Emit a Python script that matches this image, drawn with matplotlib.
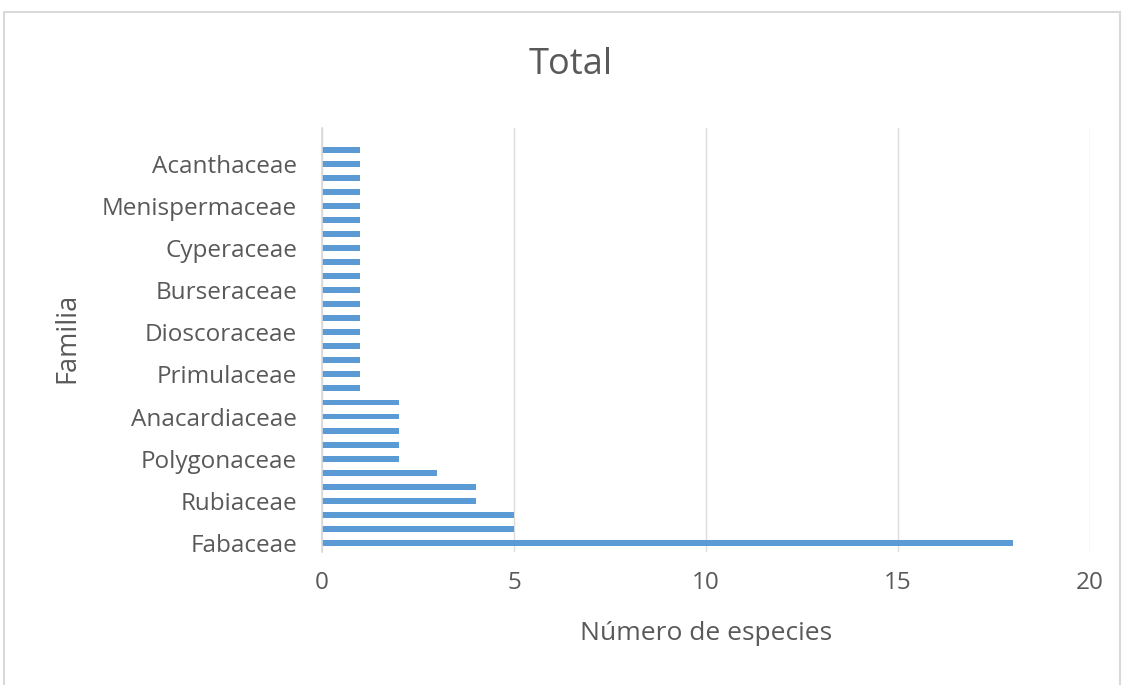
import matplotlib
matplotlib.use("Agg")
import matplotlib.pyplot as plt
from matplotlib.patches import Rectangle

# families from bottom to top, Excel only labels every third one
familias = ["Fabaceae", "", "", "Rubiaceae", "", "", "Polygonaceae", "", "",
            "Anacardiaceae", "", "", "Primulaceae", "", "", "Dioscoraceae", "", "",
            "Burseraceae", "", "", "Cyperaceae", "", "", "Menispermaceae", "", "",
            "Acanthaceae", ""]
especies = [18, 5, 5, 4, 4, 3, 2, 2, 2, 2, 2,
            1, 1, 1, 1, 1, 1, 1, 1, 1, 1, 1, 1, 1, 1, 1, 1, 1, 1]
xticks = [0, 5, 10, 15, 20]

plt.rcParams['font.family'] = ['Open Sans', 'DejaVu Sans']
txt = "#595959"

W, H = 1125, 685
fig = plt.figure(figsize=(W / 100, H / 100), dpi=100)
ax = fig.add_axes([322 / W, (H - 552) / H, (1090 - 322) / W, (552 - 128) / H])

pos = list(range(len(especies)))
ax.barh(pos, especies, height=0.42, color="#5b9bd5", zorder=3)

ax.set_xlim(0, 20)
ax.set_ylim(-0.65, 29.55)
ax.set_xticks(xticks)
ax.set_xticklabels([str(t) for t in xticks])
ax.set_yticks(pos[::3])
ax.set_yticklabels(familias[::3])
ax.tick_params(axis="both", length=0, colors=txt, labelsize=17.5)
ax.tick_params(axis="x", pad=14)
ax.tick_params(axis="y", pad=18)
ax.grid(axis="x", color="#dcdcdc", linewidth=1, zorder=0)
for s in ["top", "right", "bottom"]:
    ax.spines[s].set_visible(False)
ax.spines["left"].set_color("#d9d9d9")
ax.spines["left"].set_linewidth(1.2)
ax.spines["left"].set_zorder(4)

fig.text(571 / W, 1 - 65 / H, "Total", ha="center", va="center", fontsize=26, color=txt)
fig.text(706 / W, 1 - 633 / H, "Número de especies", ha="center", va="center", fontsize=19, color=txt)
fig.text(67 / W, 1 - 338 / H, "Familia", ha="center", va="center", rotation=90, fontsize=19.5, color=txt)

# chart area border
fig.patches.append(Rectangle((4 / W, -0.05), (1120 - 4) / W, 1.05 - 12 / H,
                             transform=fig.transFigure, fill=False,
                             edgecolor="#d9d9d9", linewidth=1.5))

fig.savefig("out.png", dpi=100)
